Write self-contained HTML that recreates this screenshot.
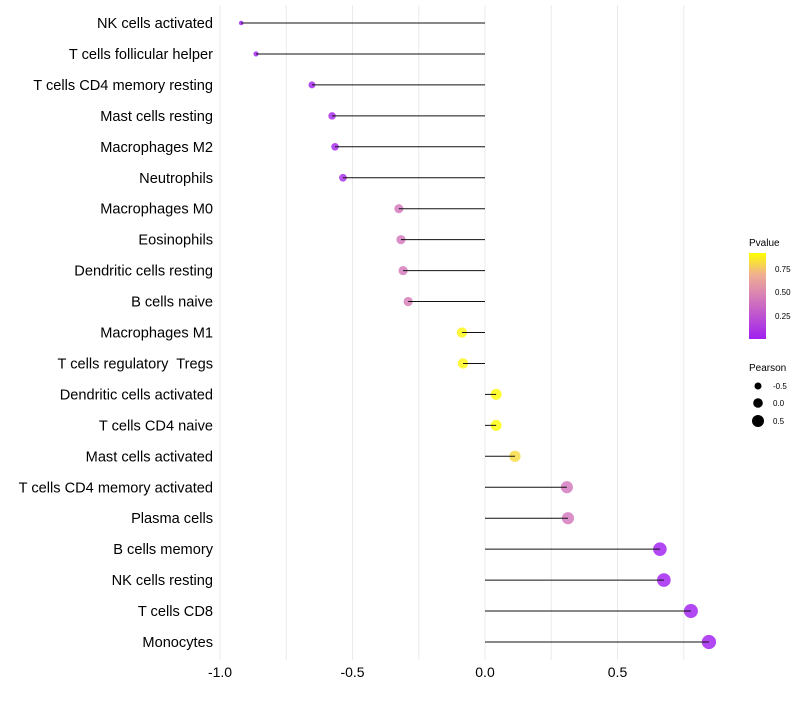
<!DOCTYPE html>
<html><head><meta charset="utf-8"><style>
body{margin:0;background:#fff;font-family:"Liberation Sans",sans-serif}
text{white-space:pre}
</style></head><body>
<svg id="chart" width="800" height="700" xmlns="http://www.w3.org/2000/svg">
<defs><linearGradient id="pg" x1="0" y1="1" x2="0" y2="0">
<stop offset="0" stop-color="#A020F0"/><stop offset="0.5" stop-color="#D77FB6"/><stop offset="0.75" stop-color="#F0B090"/><stop offset="1" stop-color="#FFFF00"/></linearGradient></defs>
<g id="grid"></g><g id="points"></g><g id="marks"></g><g id="labels"></g>
<g font-size="10" fill="#000">
<text x="749" y="246">Pvalue</text>
<rect x="749" y="253" width="17" height="86" fill="url(#pg)"/>
<text x="775" y="272" font-size="8">0.75</text>
<text x="775" y="295" font-size="8">0.50</text>
<text x="775" y="319" font-size="8">0.25</text>
<text x="749" y="371">Pearson</text>
<circle cx="758" cy="386" r="3.5"/><text x="773" y="389" font-size="8">-0.5</text>
<circle cx="758" cy="403" r="4.8"/><text x="773" y="406" font-size="8">0.0</text>
<circle cx="758" cy="421" r="6"/><text x="773" y="424" font-size="8">0.5</text>
</g>
</svg>
<script>
const categories=["NK cells activated","T cells follicular helper","T cells CD4 memory resting","Mast cells resting","Macrophages M2","Neutrophils","Macrophages M0","Eosinophils","Dendritic cells resting","B cells naive","Macrophages M1","T cells regulatory  Tregs","Dendritic cells activated","T cells CD4 naive","Mast cells activated","T cells CD4 memory activated","Plasma cells","B cells memory","NK cells resting","T cells CD8","Monocytes"];
const pearson=[-0.92,-0.864,-0.653,-0.577,-0.566,-0.536,-0.325,-0.317,-0.309,-0.29,-0.087,-0.083,0.042,0.042,0.113,0.309,0.313,0.66,0.675,0.777,0.845];
const pvalues=[0.02,0.03,0.06,0.08,0.08,0.1,0.45,0.45,0.46,0.48,0.92,0.92,0.94,0.94,0.85,0.45,0.45,0.03,0.03,0.01,0.01];
const xTicks=[-1,-0.5,0,0.5];
const xTickLabels=["-1.0","-0.5","0.0","0.5"];
const xMinor=[-0.75,-0.25,0.25,0.75];
const ns="http://www.w3.org/2000/svg";
const xs=v=>485+v*265;
const ys=i=>23+i*30.95;
const rs=v=>Math.sqrt(Math.max(2,29+26*v));
function col(p){
 const stops=[[0,[160,32,240]],[0.5,[215,127,182]],[0.75,[240,176,144]],[1,[255,255,0]]];
 const t=Math.max(0,Math.min(1,(p-0.04)/0.91));
 for(let k=1;k<stops.length;k++){if(t<=stops[k][0]){const a=stops[k-1],b=stops[k],f=(t-a[0])/(b[0]-a[0]);return "rgb("+a[1].map((c,j)=>Math.round(c+(b[1][j]-c)*f)).join(",")+")";}}
 return "rgb(255,255,0)";
}
function mk(tag,attrs,parent){const e=document.createElementNS(ns,tag);for(const k in attrs)e.setAttribute(k,attrs[k]);parent.appendChild(e);return e;}
const grid=document.getElementById('grid'),marks=document.getElementById('marks'),points=document.getElementById('points'),labels=document.getElementById('labels');
xMinor.concat(xTicks).forEach(v=>{const l=mk('line',{x1:xs(v),x2:xs(v),y1:5,y2:660,stroke:'#ebebeb','stroke-width':1},grid);

});
xTicks.forEach((v,i)=>{const t=mk('text',{x:xs(v),y:677,'text-anchor':'middle','font-size':14,fill:'#000'},labels);t.textContent=xTickLabels[i];

});
categories.forEach((c,i)=>{
 const y=ys(i);
 const t=mk('text',{x:213,y:y+5,'text-anchor':'end','font-size':14.6,fill:'#000'},labels);t.textContent=c;
 
 
 const p=mk('circle',{cx:xs(pearson[i]),cy:y,r:rs(pearson[i]),fill:col(pvalues[i]),'fill-opacity':0.82},points);
 
 
 const l=mk('line',{x1:xs(0),x2:xs(pearson[i]),y1:y,y2:y,stroke:'#111','stroke-width':1},marks);
 
 
});
</script>
</body></html>
